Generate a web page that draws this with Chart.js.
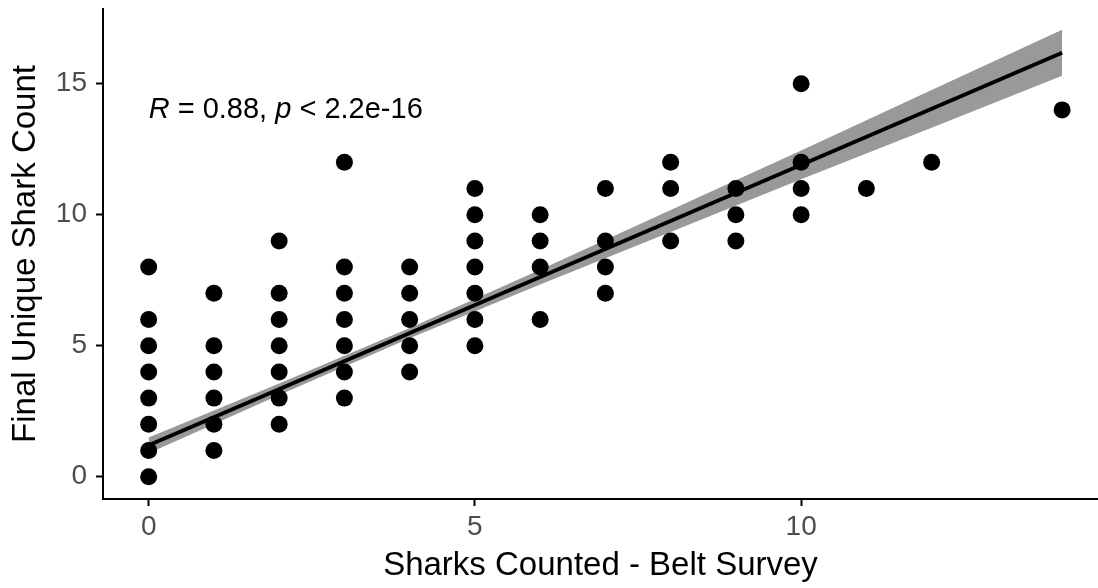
<!DOCTYPE html>
<html>
<head>
<meta charset="utf-8">
<script src="https://cdn.jsdelivr.net/npm/chart.js@4.4.1/dist/chart.umd.min.js"></script>
<style>
  html, body { margin: 0; padding: 0; background: #fff; }
  #wrap { width: 1098px; height: 588px; position: relative; }
</style>
</head>
<body>
<div id="wrap"><canvas id="chartCanvas"></canvas></div>
<script>
// belt survey count vs final unique count, one entry per survey
const beltCounts = [
  0, 0, 0, 0, 0, 0, 0, 0,
  1, 1, 1, 1, 1, 1,
  2, 2, 2, 2, 2, 2, 2,
  3, 3, 3, 3, 3, 3, 3,
  4, 4, 4, 4, 4,
  5, 5, 5, 5, 5, 5, 5,
  6, 6, 6, 6,
  7, 7, 7, 7,
  8, 8, 8,
  9, 9, 9,
  10, 10, 10, 10,
  11, 12, 14
];
const finalCounts = [
  0, 1, 2, 3, 4, 5, 6, 8,
  1, 2, 3, 4, 5, 7,
  2, 3, 4, 5, 6, 7, 9,
  3, 4, 5, 6, 7, 8, 12,
  4, 5, 6, 7, 8,
  5, 6, 7, 8, 9, 10, 11,
  6, 8, 9, 10,
  7, 8, 9, 11,
  9, 11, 12,
  9, 10, 11,
  10, 11, 12, 15,
  11, 12, 14
];

// linear fit and its 95% confidence band
const fitX = [0, 14];
const fitY = [1.2, 16.18];
const bandX = [0, 2, 4, 6, 8, 10, 12, 14];
const bandUpper = [1.5, 3.56, 5.68, 7.9, 10.18, 12.45, 14.76, 17.06];
const bandLower = [0.9, 3.12, 5.28, 7.34, 9.34, 11.35, 13.32, 15.3];

const xTicks = [0, 5, 10];
const yTicks = [0, 5, 10, 15];

const corLabel = { r: '0.88', p: '2.2e-16', x: 0, y: 13.7 };

const toXY = (xs, ys) => xs.map((x, i) => ({ x, y: ys[i] }));

const fontFamily = '"Liberation Sans", Arial, Helvetica, sans-serif';

// draws "R = 0.88, p < 2.2e-16" with italic R and p
const corPlugin = {
  id: 'corLabel',
  afterDatasetsDraw(chart) {
    const { ctx, scales } = chart;
    let px = scales.x.getPixelForValue(corLabel.x);
    const py = scales.y.getPixelForValue(corLabel.y);
    const parts = [
      ['italic', 'R'],
      ['normal', ' = ' + corLabel.r + ', '],
      ['italic', 'p'],
      ['normal', ' < ' + corLabel.p]
    ];
    ctx.save();
    ctx.fillStyle = '#000';
    ctx.textBaseline = 'alphabetic';
    ctx.textAlign = 'left';
    parts.forEach(([style, txt]) => {
      ctx.font = `${style} 29px ${fontFamily}`;
      ctx.fillText(txt, px, py);
      px += ctx.measureText(txt).width;
    });
    ctx.restore();
  }
};

// fixed axis boxes, no extra room reserved for edge labels
const fixAxis = (size) => (axis) => {
  if (axis.isHorizontal()) axis.height = size; else axis.width = size;
  axis.paddingTop = 0;
  axis.paddingBottom = 0;
  axis.paddingLeft = 0;
  axis.paddingRight = 0;
};

const ctx = document.getElementById('chartCanvas');

new Chart(ctx, {
  type: 'scatter',
  data: {
    datasets: [
      {
        label: 'fit',
        data: toXY(fitX, fitY),
        showLine: true,
        borderColor: '#000',
        borderWidth: 4,
        pointRadius: 0,
        fill: false,
        order: 0
      },
      {
        label: 'counts',
        data: toXY(beltCounts, finalCounts),
        backgroundColor: '#000',
        borderWidth: 0,
        pointRadius: 8.5,
        order: 1
      },
      {
        label: 'upper',
        data: toXY(bandX, bandUpper),
        showLine: true,
        borderWidth: 0,
        borderColor: 'rgba(0,0,0,0)',
        pointRadius: 0,
        backgroundColor: '#999999',
        fill: '+1',
        order: 2
      },
      {
        label: 'lower',
        data: toXY(bandX, bandLower),
        showLine: true,
        borderWidth: 0,
        borderColor: 'rgba(0,0,0,0)',
        pointRadius: 0,
        fill: false,
        order: 3
      }
    ]
  },
  options: {
    responsive: true,
    maintainAspectRatio: false,
    animation: false,
    layout: { autoPadding: false, padding: { top: 9, right: 0, left: 0, bottom: 0 } },
    plugins: {
      legend: { display: false },
      tooltip: { enabled: false }
    },
    scales: {
      x: {
        type: 'linear',
        min: -0.7,
        max: 14.55,
        afterBuildTicks: (axis) => { axis.ticks = xTicks.map(v => ({ value: v })); },
        afterFit: fixAxis(89),
        border: { color: '#000', width: 2 },
        grid: { drawOnChartArea: false, drawTicks: true, tickLength: 7, color: '#000', tickWidth: 2 },
        ticks: {
          color: '#4d4d4d',
          padding: 4,
          maxRotation: 0,
          font: { family: fontFamily, size: 28 }
        },
        title: {
          display: true,
          text: 'Sharks Counted - Belt Survey',
          color: '#000',
          padding: { top: 0, bottom: 2 },
          font: { family: fontFamily, size: 33 }
        }
      },
      y: {
        type: 'linear',
        min: -0.85,
        max: 17.85,
        afterBuildTicks: (axis) => { axis.ticks = yTicks.map(v => ({ value: v })); },
        afterFit: fixAxis(103),
        border: { color: '#000', width: 2 },
        grid: { drawOnChartArea: false, drawTicks: true, tickLength: 7, color: '#000', tickWidth: 2 },
        ticks: {
          color: '#4d4d4d',
          padding: 9,
          font: { family: fontFamily, size: 28 }
        },
        title: {
          display: true,
          text: 'Final Unique Shark Count',
          color: '#000',
          padding: { top: 6, bottom: 0 },
          font: { family: fontFamily, size: 33 }
        }
      }
    }
  },
  plugins: [corPlugin]
});
</script>
</body>
</html>
